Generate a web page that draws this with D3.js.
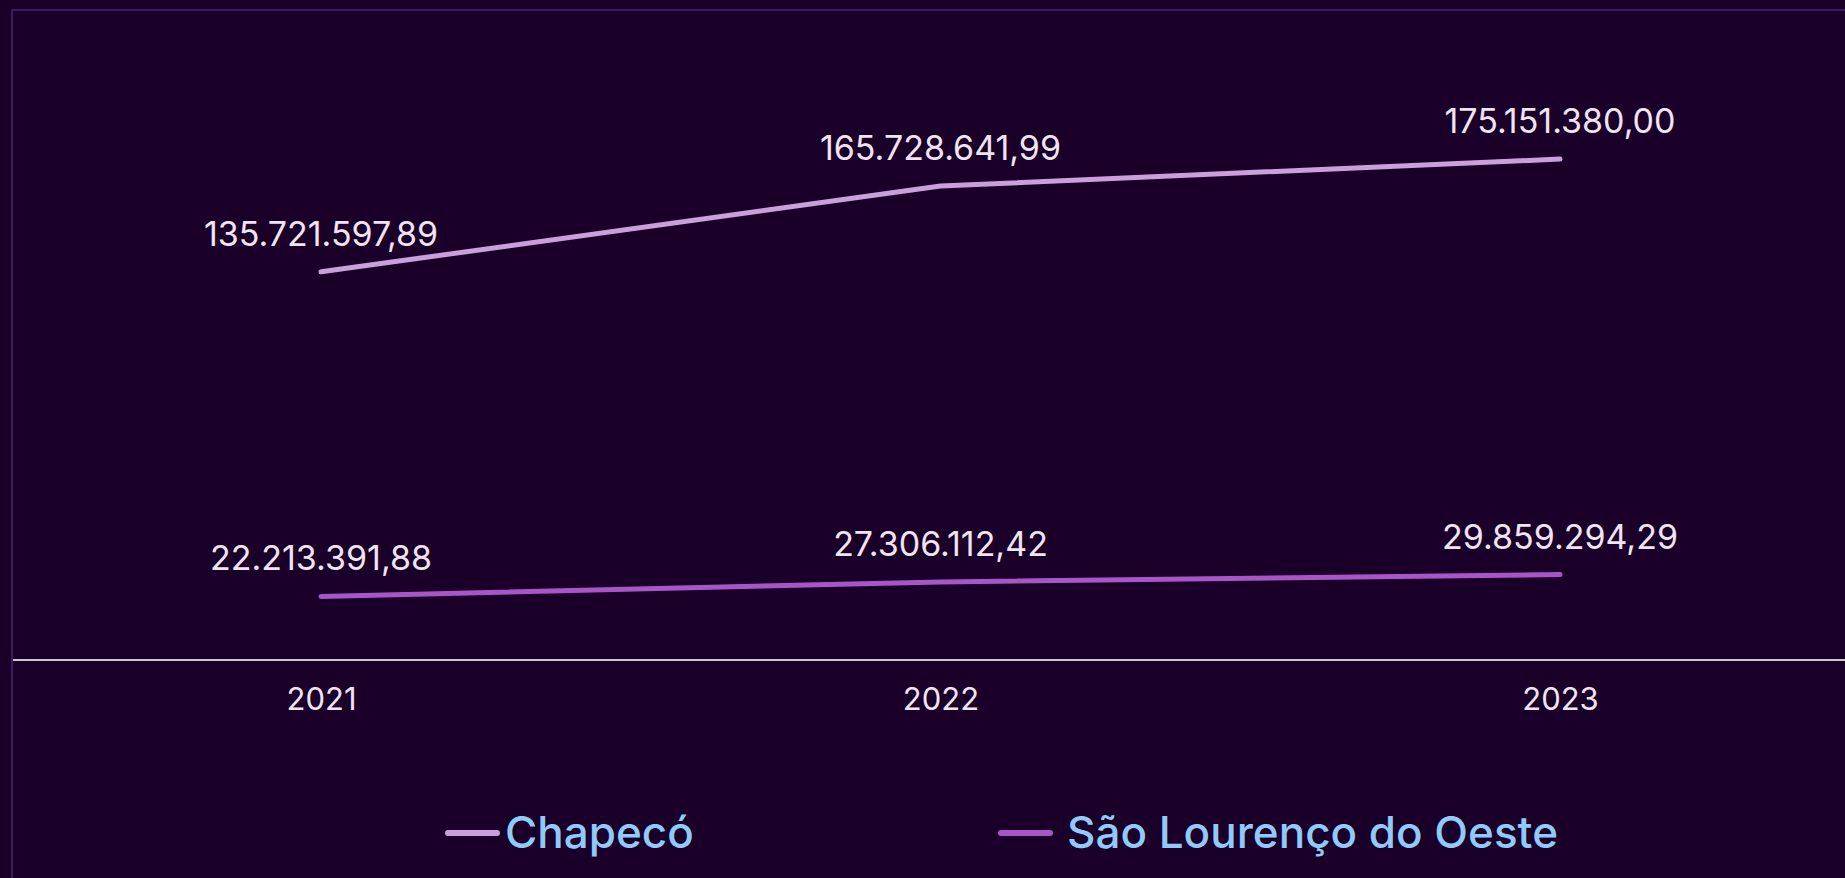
<!DOCTYPE html>
<html>
<head>
<meta charset="utf-8">
<script src="https://cdn.jsdelivr.net/npm/d3@7"></script>
<style>
  html, body { margin: 0; padding: 0; background: #1a0029; overflow: hidden; }
  svg { display: block; }
</style>
</head>
<body>
<svg id="chart" width="1845" height="878"></svg>
<script>
const years = ["2021", "2022", "2023"];
const seriesNames = ["Chapecó", "São Lourenço do Oeste"];
const chapecoValues = [135721597.89, 165728641.99, 175151380.00];
const saoLourencoValues = [22213391.88, 27306112.42, 29859294.29];
const seriesColors = ["#c9a0dc", "#a855c8"];

const series = [
  { name: seriesNames[0], values: chapecoValues, color: seriesColors[0] },
  { name: seriesNames[1], values: saoLourencoValues, color: seriesColors[1] }
];

const svg = d3.select("#chart");
const W = 1845, H = 878;

svg.append("rect").attr("width", W).attr("height", H).attr("fill", "#1a0029");
// frame (left/top visible)
svg.append("rect")
  .attr("x", 12).attr("y", 10).attr("width", 2000).attr("height", 1000)
  .attr("fill", "none").attr("stroke", "#3b1d5c").attr("stroke-width", 2);

const x = d3.scalePoint().domain(years).range([321, 1560]);
const y = d3.scaleLinear().domain([0, 200e6]).range([660, 88]);

const fmt = d3.formatLocale({ decimal: ",", thousands: ".", grouping: [3], currency: ["R$", ""] }).format(",.2f");

// x axis
const xAxis = d3.axisBottom(x).tickSize(0).tickPadding(28);
const gx = svg.append("g").attr("transform", "translate(0,660)").call(xAxis);
gx.select(".domain").remove();
gx.append("line").attr("x1", 13).attr("x2", W).attr("y1", 0).attr("y2", 0)
  .attr("stroke", "#c8c8c8").attr("stroke-width", 2);
gx.selectAll(".tick text")
  .attr("fill", "#f0e4f4")
  .attr("font-family", "Inter, 'Open Sans', sans-serif")
  .attr("font-size", 31)
  .attr("dy", "0.71em");

const line = d3.line().x((d, i) => x(years[i])).y(d => y(d));

series.forEach(s => {
  svg.append("path")
    .datum(s.values)
    .attr("d", line)
    .attr("fill", "none")
    .attr("stroke", s.color)
    .attr("stroke-width", 5)
    .attr("stroke-linecap", "round")
    .attr("stroke-linejoin", "round");
  svg.append("g").selectAll("text")
    .data(s.values)
    .join("text")
    .attr("x", (d, i) => x(years[i]))
    .attr("y", d => y(d) - 26)
    .attr("text-anchor", "middle")
    .attr("fill", "#f0e4f4")
    .attr("font-family", "Inter, 'Open Sans', sans-serif")
    .attr("font-size", 34)
    .text(d => fmt(d));
});

// legend
const legendItems = [
  { name: seriesNames[0], color: seriesColors[0], lx: 448, tx: 505 },
  { name: seriesNames[1], color: seriesColors[1], lx: 1001, tx: 1067 }
];
const lg = svg.append("g");
legendItems.forEach(it => {
  lg.append("line")
    .attr("x1", it.lx).attr("x2", it.lx + 49).attr("y1", 833).attr("y2", 833)
    .attr("stroke", it.color).attr("stroke-width", 6).attr("stroke-linecap", "round");
  lg.append("text")
    .attr("x", it.tx).attr("y", 848)
    .attr("fill", "#90caf9")
    .attr("font-family", "Inter, 'Open Sans', sans-serif")
    .attr("font-weight", 500)
    .attr("font-size", 44)
    .text(it.name);
});
</script>
</body>
</html>
